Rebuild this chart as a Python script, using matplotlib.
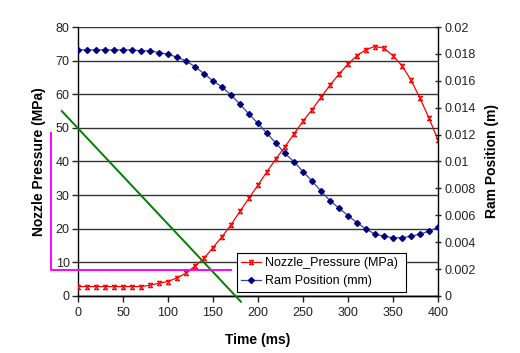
import matplotlib
matplotlib.use("Agg")
import matplotlib.pyplot as plt
from matplotlib.path import Path

plt.rcParams['font.family'] = ['Liberation Sans', 'DejaVu Sans']

time_ms = list(range(0, 410, 10))
nozzle_pressure = [2.8, 2.8, 2.8, 2.8, 2.8, 2.8, 2.8, 2.8, 3.2, 3.8,
                   4.3, 5.4, 6.8, 8.9, 11.2, 14.4, 17.6, 21.2, 25.2, 29.1,
                   33.0, 37.0, 40.8, 44.4, 48.2, 52.0, 55.4, 59.1, 62.7, 66.0,
                   69.0, 71.5, 73.3, 74.2, 73.7, 71.5, 68.5, 64.2, 58.8, 52.9,
                   46.4]
ram_position_m = [0.01830, 0.01830, 0.01830, 0.01830, 0.01830, 0.01830, 0.01830, 0.01823, 0.01823, 0.01810,
                  0.01798, 0.01775, 0.01748, 0.01705, 0.01653, 0.01600, 0.01553, 0.01495, 0.01425, 0.01353,
                  0.01283, 0.01210, 0.01135, 0.01060, 0.00998, 0.00925, 0.00855, 0.00780, 0.00708, 0.00653,
                  0.00598, 0.00545, 0.00498, 0.00460, 0.00445, 0.00433, 0.00433, 0.00445, 0.00460, 0.00483,
                  0.00510]

# annotation lines (data units of the left axis)
tangent_t = [-18, 181]
tangent_p = [55.0, -1.7]
bracket_t = [-30, -30, 170]
bracket_p = [48.4, 7.7, 7.7]

x_ticks = [0, 50, 100, 150, 200, 250, 300, 350, 400]
left_ticks = [0, 10, 20, 30, 40, 50, 60, 70, 80]
right_ticks = [0, 0.002, 0.004, 0.006, 0.008, 0.01, 0.012, 0.014, 0.016, 0.018, 0.02]
right_labels = ['0', '0.002', '0.004', '0.006', '0.008', '0.01', '0.012', '0.014', '0.016', '0.018', '0.02']

# Excel-like star marker (X with caps)
star = Path([(-1, -1), (1, 1), (-1, 1), (1, -1), (-1, 1), (1, 1), (-1, -1), (1, -1)],
            [Path.MOVETO, Path.LINETO, Path.MOVETO, Path.LINETO,
             Path.MOVETO, Path.LINETO, Path.MOVETO, Path.LINETO])

fig = plt.figure(figsize=(5.2, 3.53), dpi=100)
ax = fig.add_axes([0.15, 0.1615, 0.6923, 0.762])
ax2 = ax.twinx()

ax.set_xlim(0, 400)
ax.set_ylim(0, 80)
ax2.set_ylim(0, 0.02)

for v in left_ticks:
    ax.axhline(v, color='#333333', lw=1.0, zorder=0)

l1, = ax.plot(time_ms, nozzle_pressure, color='#ff0000', lw=0.9, marker=star,
              markersize=3.2, markeredgewidth=0.8, label='Nozzle_Pressure (MPa)', zorder=3)
l2, = ax2.plot(time_ms, ram_position_m, color='#3a44a0', lw=0.9, marker='D',
               markersize=3.0, markerfacecolor='#000080', markeredgecolor='#000080',
               label='Ram Position (mm)', zorder=3)

ax2.plot(tangent_t, [p / 4000 for p in tangent_p], color='#008000', lw=1.4, clip_on=False, zorder=4)
ax2.plot(bracket_t, [p / 4000 for p in bracket_p], color='#ff00ff', lw=1.4, clip_on=False, zorder=4)

ax.set_xticks(x_ticks)
ax.set_yticks(left_ticks)
ax2.set_yticks(right_ticks)
ax2.set_yticklabels(right_labels)

for a in (ax, ax2):
    a.spines['top'].set_visible(False)
    for s in a.spines.values():
        s.set_color('black')
        s.set_linewidth(1.0)
ax2.spines['left'].set_visible(False)
ax.spines['right'].set_visible(False)

ax.tick_params(axis='both', labelsize=9, colors='#222222', length=4, width=1, direction='out', pad=2)
ax.tick_params(axis='x', pad=4)
ax2.tick_params(axis='y', labelsize=9, colors='#222222', length=5, width=1, direction='inout', pad=2)

ax.set_xlabel('Time (ms)', fontsize=10, fontweight='bold', labelpad=10)
ax.set_ylabel('Nozzle Pressure (MPa)', fontsize=10, fontweight='bold', labelpad=7)
ax2.set_ylabel('Ram Position (m)', fontsize=10, fontweight='bold', labelpad=7)

leg = ax2.legend(handles=[l1, l2], loc='lower left', bbox_to_anchor=(0.441, 0.016, 0.469, 0.167),
                 mode='expand', fontsize=9, frameon=True, fancybox=False, framealpha=1,
                 edgecolor='black', borderaxespad=0, handlelength=1.6, handletextpad=0.3,
                 borderpad=0.35, labelspacing=0.5)
leg.get_frame().set_linewidth(0.8)
leg.set_zorder(10)

fig.savefig('out.png', dpi=100)
